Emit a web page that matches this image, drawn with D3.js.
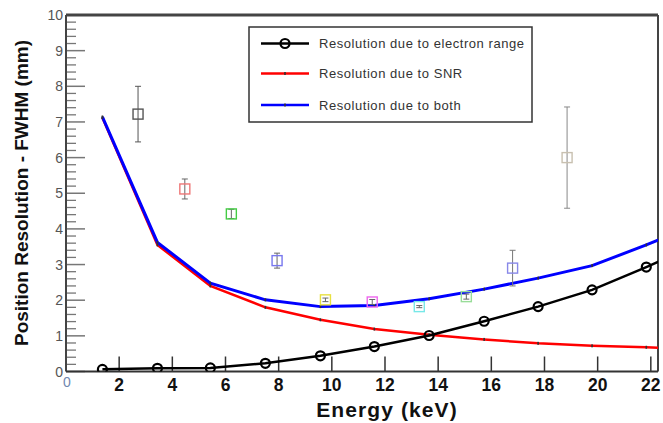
<!DOCTYPE html>
<html>
<head>
<meta charset="utf-8">
<script src="https://cdn.jsdelivr.net/npm/d3@7"></script>
<style>
  body { margin: 0; background: #fff; }
  svg { display: block; font-family: "Liberation Sans", Arial, sans-serif; }
</style>
</head>
<body>
<div id="chart"></div>
<script>
//// curve data (energy in keV, resolution in mm)
const energy = [1.37, 3.44, 5.43, 7.5, 9.57, 11.6, 13.66, 15.73, 17.76, 19.79, 21.83, 23.9];
const resRange = [0.06, 0.09, 0.1, 0.23, 0.44, 0.70, 1.01, 1.41, 1.82, 2.29, 2.93, 3.6];
const resSNR = [7.12, 3.55, 2.40, 1.80, 1.45, 1.19, 1.03, 0.90, 0.79, 0.72, 0.68, 0.63];
const resBoth = [7.14, 3.62, 2.48, 2.01, 1.82, 1.85, 2.04, 2.31, 2.62, 2.97, 3.55, 4.2];

//// measured points with error bars
const measE = [2.71, 4.47, 6.22, 7.94, 9.76, 11.52, 13.29, 15.06, 16.8, 18.85];
const measRes = [7.22, 5.12, 4.42, 3.11, 2.01, 1.95, 1.82, 2.10, 2.90, 6.0];
const measErr = [0.78, 0.28, 0.13, 0.21, 0.05, 0.07, 0.03, 0.07, 0.5, 1.42];
const measColor = ['#555555', '#ee7777', '#44cc44', '#7777ee', '#e8e040', '#ee66ee', '#77e8e8', '#99dd99', '#8888e8', '#c8c0b0'];
const errColor = ['#555555', '#666666', '#666666', '#666666', '#666666', '#666666', '#666666', '#666666', '#777777', '#888888'];

//// axis ticks
const xTicks = [2, 4, 6, 8, 10, 12, 14, 16, 18, 20, 22];
const yTicks = [0, 1, 2, 3, 4, 5, 6, 7, 8, 9, 10];

const legendLabels = ['Resolution due to electron range', 'Resolution due to SNR', 'Resolution due to both'];

const W = 663, H = 423;
const margin = { left: 66, top: 15, right: 5, bottom: 51.5 };

const svg = d3.select('#chart').append('svg')
	.attr('width', W)
	.attr('height', H);

const x = d3.scaleLinear().domain([0, 22.27]).range([margin.left, W - margin.right]);
const y = d3.scaleLinear().domain([0, 10]).range([H - margin.bottom, margin.top]);

svg.append('clipPath').attr('id', 'plotclip')
	.append('rect')
	.attr('x', x(0)).attr('y', y(10))
	.attr('width', x(22.27) - x(0)).attr('height', y(0) - y(10));

//// y axis: majors + minors
const yMinor = d3.range(0, 10.001, 0.2).filter(v => Math.abs(v - Math.round(v)) > 0.01);
svg.append('g').selectAll('line').data(yMinor).enter().append('line')
	.attr('x1', x(0)).attr('x2', x(0) + 10)
	.attr('y1', d => y(d)).attr('y2', d => y(d))
	.attr('stroke', '#777').attr('stroke-width', 1.3);
svg.append('g').selectAll('line').data(yTicks).enter().append('line')
	.attr('x1', x(0)).attr('x2', x(0) + 19)
	.attr('y1', d => y(d)).attr('y2', d => y(d))
	.attr('stroke', '#777').attr('stroke-width', 1.5);
svg.append('g').selectAll('text').data(yTicks).enter().append('text')
	.attr('x', x(0) - 3).attr('y', d => y(d) + 5)
	.attr('text-anchor', 'end')
	.attr('font-size', 14).attr('fill', '#555')
	.text(d => d);

//// x axis
svg.append('g').selectAll('line').data(xTicks).enter().append('line')
	.attr('x1', d => x(d)).attr('x2', d => x(d))
	.attr('y1', y(0)).attr('y2', y(0) - 15)
	.attr('stroke', '#333').attr('stroke-width', 1.5);
svg.append('g').selectAll('text').data(xTicks).enter().append('text')
	.attr('x', d => x(d)).attr('y', y(0) + 19.5)
	.attr('text-anchor', 'middle')
	.attr('font-size', 17.5).attr('font-weight', 'bold').attr('fill', '#111')
	.text(d => d);
svg.append('text')
	.attr('x', x(0) + 1).attr('y', y(0) + 15)
	.attr('text-anchor', 'middle')
	.attr('font-size', 14).attr('fill', '#7088b0')
	.text('0');

//// frame
svg.append('line').attr('x1', x(0)).attr('x2', x(22.27)).attr('y1', y(10)).attr('y2', y(10))
	.attr('stroke', '#444').attr('stroke-width', 3);
svg.append('line').attr('x1', x(22.27)).attr('x2', x(22.27)).attr('y1', y(10)).attr('y2', y(0))
	.attr('stroke', '#444').attr('stroke-width', 2);
svg.append('line').attr('x1', x(0)).attr('x2', x(0)).attr('y1', y(10)).attr('y2', y(0))
	.attr('stroke', '#444').attr('stroke-width', 2);
svg.append('line').attr('x1', x(0)).attr('x2', x(22.27)).attr('y1', y(0)).attr('y2', y(0))
	.attr('stroke', '#333').attr('stroke-width', 2);

//// axis titles
svg.append('text')
	.attr('x', 387).attr('y', 416.5)
	.attr('text-anchor', 'middle')
	.attr('font-size', 21).attr('font-weight', 'bold').attr('fill', '#111')
	.attr('letter-spacing', 1.1)
	.text('Energy (keV)');
svg.append('text')
	.attr('transform', 'translate(28,193) rotate(-90)')
	.attr('text-anchor', 'middle')
	.attr('font-size', 19).attr('font-weight', 'bold').attr('fill', '#111')
	.text('Position Resolution - FWHM (mm)');

//// curves
const plot = svg.append('g').attr('clip-path', 'url(#plotclip)');
const lineOf = vals => d3.line().x((d, i) => x(energy[i])).y(d => y(d))(vals);

plot.append('path').attr('d', lineOf(resSNR))
	.attr('fill', 'none').attr('stroke', '#ff0000').attr('stroke-width', 2.5);
plot.append('path').attr('d', lineOf(resBoth))
	.attr('fill', 'none').attr('stroke', '#0000ff').attr('stroke-width', 3);
[resSNR, resBoth].forEach(vals => {
	plot.append('g').selectAll('rect').data(vals).enter().append('rect')
		.attr('x', (d, i) => x(energy[i]) - 0.8).attr('y', d => y(d) - 1.5)
		.attr('width', 1.6).attr('height', 3)
		.attr('fill', '#333');
});
plot.append('path').attr('d', lineOf(resRange))
	.attr('fill', 'none').attr('stroke', '#000').attr('stroke-width', 2.5);
plot.append('g').selectAll('circle').data(resRange).enter().append('circle')
	.attr('cx', (d, i) => x(energy[i])).attr('cy', d => y(d))
	.attr('r', 4.5)
	.attr('fill', 'none').attr('stroke', '#000').attr('stroke-width', 2.2);

//// measured points
const meas = measE.map((e, i) => ({ e, r: measRes[i], err: measErr[i], c: measColor[i], ec: errColor[i] }));
const pts = plot.append('g').selectAll('g').data(meas).enter().append('g');
pts.append('line')
	.attr('x1', d => x(d.e)).attr('x2', d => x(d.e))
	.attr('y1', d => y(d.r + d.err)).attr('y2', d => y(d.r - d.err))
	.attr('stroke', d => d.ec).attr('stroke-width', 1);
pts.each(function(d) {
	const g = d3.select(this);
	[d.r + d.err, d.r - d.err].forEach(v => {
		g.append('line')
			.attr('x1', x(d.e) - 3).attr('x2', x(d.e) + 3)
			.attr('y1', y(v)).attr('y2', y(v))
			.attr('stroke', d.ec).attr('stroke-width', 1);
	});
});
pts.append('rect')
	.attr('x', d => x(d.e) - 5).attr('y', d => y(d.r) - 5)
	.attr('width', 10).attr('height', 10)
	.attr('fill', 'none').attr('stroke', d => d.c).attr('stroke-width', 1.4);

//// legend
const legend = svg.append('g');
legend.append('rect')
	.attr('x', 249).attr('y', 27).attr('width', 283).attr('height', 95)
	.attr('fill', '#fff').attr('stroke', '#333').attr('stroke-width', 1.5);
const legY = [43.5, 73.5, 105];
const legColor = ['#000', '#ff0000', '#0000ff'];
legendLabels.forEach((lab, i) => {
	legend.append('line')
		.attr('x1', 261).attr('x2', 309).attr('y1', legY[i]).attr('y2', legY[i])
		.attr('stroke', legColor[i]).attr('stroke-width', 2.5);
	if (i === 0) {
		legend.append('circle').attr('cx', 285).attr('cy', legY[i]).attr('r', 4.5)
			.attr('fill', 'none').attr('stroke', '#000').attr('stroke-width', 2.2);
	} else {
		legend.append('rect').attr('x', 284.2).attr('y', legY[i] - 1.5)
			.attr('width', 1.6).attr('height', 3).attr('fill', '#333');
	}
	legend.append('text')
		.attr('x', 319).attr('y', legY[i] + 4.5)
		.attr('font-size', 13).attr('fill', '#333')
		.attr('letter-spacing', 0.55)
		.text(lab);
});
</script>
</body>
</html>
